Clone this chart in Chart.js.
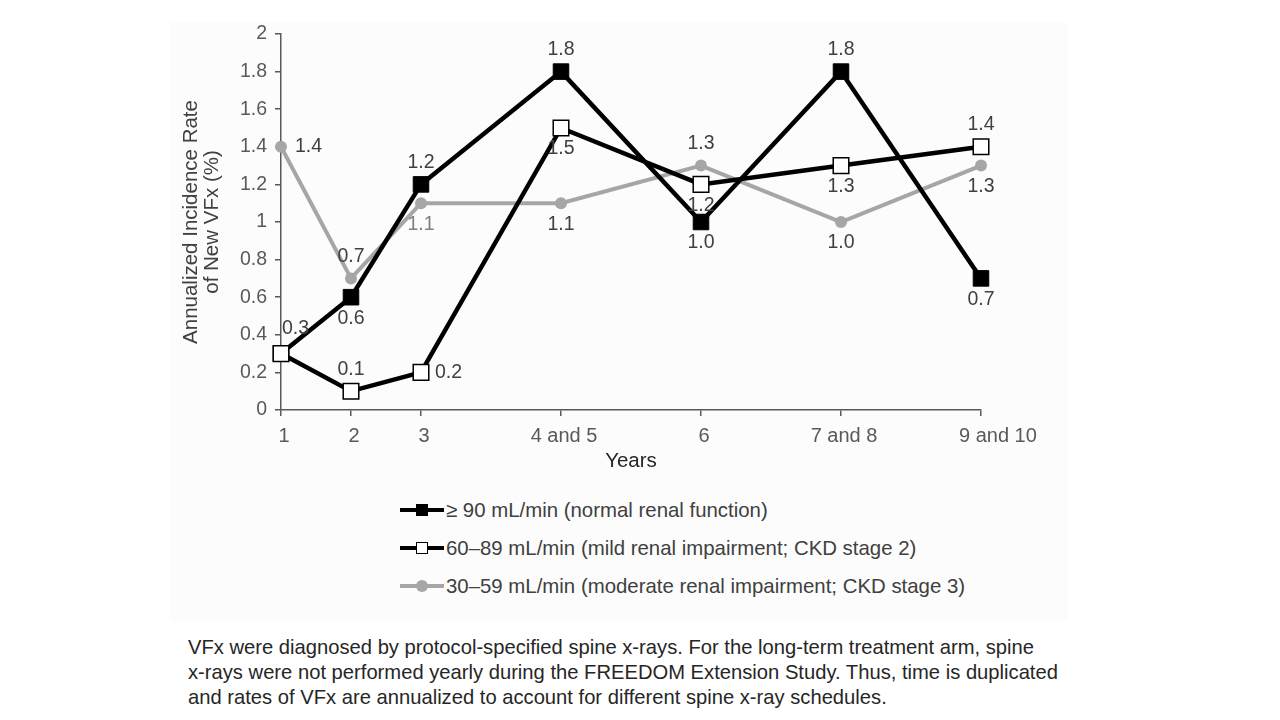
<!DOCTYPE html>
<html>
<head>
<meta charset="utf-8">
<script src="https://cdn.jsdelivr.net/npm/chart.js@4.4.1/dist/chart.umd.min.js"></script>
<style>
    body { margin: 0; background: #fff; font-family: "Liberation Sans", Arial, sans-serif; }
    #panel { position: absolute; left: 170px; top: 22px; width: 898px; height: 598px; background: #fcfcfc; }
    #wrap { position: absolute; left: 0; top: 0; width: 1280px; height: 480px; }
    #legend { position: absolute; left: 400px; top: 491px; color: #404040; font-size: 20.4px; }
    .item { height: 38px; display: flex; align-items: center; }
    .sample { position: relative; width: 44px; height: 38px; margin-right: 2px; }
    .sample .ln { position: absolute; left: 0; right: 0; top: 17px; height: 4px; }
    .sample .mk { position: absolute; box-sizing: border-box; }
    #note { position: absolute; left: 188px; top: 635px; font-size: 20.2px; line-height: 25px; color: #262626; }
</style>
</head>
<body>
<div id="panel"></div>
<div id="wrap"><canvas id="chart1" width="1280" height="480"></canvas></div>
<div id="legend"></div>
<div id="note">VFx were diagnosed by protocol-specified spine x-rays. For the long-term treatment arm, spine<br>x-rays were not performed yearly during the FREEDOM Extension Study. Thus, time is duplicated<br>and rates of VFx are annualized to account for different spine x-ray schedules.</div>
<script>
(function() {
    // x categories and where they sit on the year axis
    const yearLabels = ["1", "2", "3", "4 and 5", "6", "7 and 8", "9 and 10"]
    const yearPos = [1, 2, 3, 5, 7, 9, 11]

    const seriesNames = [
        "\u2265 90 mL/min (normal renal function)",
        "60\u201389 mL/min (mild renal impairment; CKD stage 2)",
        "30\u201359 mL/min (moderate renal impairment; CKD stage 3)",
    ]
    const normalRates = [0.3, 0.6, 1.2, 1.8, 1.0, 1.8, 0.7]
    const mildRates = [0.3, 0.1, 0.2, 1.5, 1.2, 1.3, 1.4]
    const moderateRates = [1.4, 0.7, 1.1, 1.1, 1.3, 1.0, 1.3]

    const yTicks = [0, 0.2, 0.4, 0.6, 0.8, 1, 1.2, 1.4, 1.6, 1.8, 2]

    const toPoints = (vals) => vals.map((v, i) => ({ x: yearPos[i], y: v }))

    const tickColor = "#595959"
    const font = "Liberation Sans, Arial, sans-serif"

    const valueLabels = {
        id: "valueLabels",
        afterDatasetsDraw(chart) {
            const ctx = chart.ctx
            ctx.save()
            ctx.font = "19.5px " + font
            ctx.textBaseline = "middle"
            chart.data.datasets.forEach((ds, i) => {
                const meta = chart.getDatasetMeta(i)
                meta.data.forEach((pt, j) => {
                    const where = ds.labelAt[j]
                    if (!where) return
                    let x = pt.x, y = pt.y, align = "center"
                    if (where === "above") y -= 22
                    else if (where === "below") y += 21
                    else if (where === "right") { x += 14; align = "left" }
                    else if (where === "aboveRight") { x += 1; y -= 25; align = "left" }
                    ctx.textAlign = align
                    ctx.fillStyle = (ds.labelColor && ds.labelColor[j]) || "#404040"
                    ctx.fillText(ds.data[j].y.toFixed(1), x, y)
                })
            })
            ctx.restore()
        }
    }

    const datasets = [
        {
            label: seriesNames[0],
            data: toPoints(normalRates),
            borderColor: "#000",
            borderWidth: 4.5,
            pointStyle: "rect",
            pointRadius: 11,
            pointBackgroundColor: "#000",
            pointBorderColor: "#000",
            pointBorderWidth: 1,
            clip: false,
            order: 1,
            labelAt: [null, "below", "above", "above", "below", "above", "below"],
        },
        {
            label: seriesNames[1],
            data: toPoints(mildRates),
            borderColor: "#000",
            borderWidth: 4.5,
            pointStyle: "rect",
            pointRadius: 11,
            pointBackgroundColor: "#fff",
            pointBorderColor: "#000",
            pointBorderWidth: 1.5,
            clip: false,
            order: 0,
            labelAt: ["aboveRight", "above", "right", "below", "below", "below", "above"],
        },
        {
            label: seriesNames[2],
            data: toPoints(moderateRates),
            borderColor: "#a6a6a6",
            borderWidth: 4,
            pointStyle: "circle",
            pointRadius: 6,
            pointBackgroundColor: "#a6a6a6",
            pointBorderColor: "#a6a6a6",
            pointBorderWidth: 0,
            clip: false,
            order: 2,
            labelAt: ["right", "above", "below", "below", "above", "below", "below"],
            labelColor: [null, null, "#808080"],
        },
    ]

    const chart = {
        type: "line",
        data: { datasets: datasets },
        options: {
            responsive: false,
            animation: false,
            layout: { padding: { left: 170, right: 299, top: 34, bottom: 0 } },
            scales: {
                x: {
                    type: "linear",
                    min: 1,
                    max: 11,
                    afterBuildTicks: (s) => { s.ticks = yearPos.map(v => ({ value: v })) },
                    afterFit: (s) => { s.height = 70 },
                    ticks: {
                        color: tickColor,
                        padding: 8,
                        labelOffset: 3,
                        font: { family: font, size: 20 },
                        callback: (v) => {
                            const i = yearPos.indexOf(v)
                            // the last label sits a bit right of its tick in the original
                            return (i === yearLabels.length - 1 ? "     " : "") + yearLabels[i]
                        },
                    },
                    grid: { drawOnChartArea: false, tickLength: 6, color: tickColor, lineWidth: 1.5 },
                    border: { color: tickColor, width: 1.5 },
                    title: {
                        display: true,
                        text: "Years",
                        color: "#262626",
                        font: { family: font, size: 20.5 },
                        padding: { top: 0, bottom: 6 },
                    },
                },
                y: {
                    min: 0,
                    max: 2,
                    afterBuildTicks: (s) => { s.ticks = yTicks.map(v => ({ value: v })) },
                    afterFit: (s) => { s.width = 111 },
                    ticks: {
                        color: tickColor,
                        padding: 8,
                        font: { family: font, size: 19.5 },
                        callback: (v) => String(v),
                    },
                    grid: { drawOnChartArea: false, tickLength: 6, color: tickColor, lineWidth: 1.5 },
                    border: { color: tickColor, width: 1.5 },
                    title: {
                        display: true,
                        text: ["Annualized Incidence Rate", "of New VFx (%)"],
                        color: "#404040",
                        font: { family: font, size: 20.5, lineHeight: 1.03 },
                        padding: { top: 11, bottom: 0 },
                    },
                },
            },
            plugins: {
                legend: { display: false },
                tooltip: { enabled: false },
            },
        },
        plugins: [valueLabels],
    }

    const ctx = document.getElementById("chart1").getContext("2d")
    new Chart(ctx, chart)

    // legend rows drawn from the same dataset styles
    const legend = document.getElementById("legend")
    datasets.forEach((ds) => {
        const row = document.createElement("div")
        row.className = "item"
        const sample = document.createElement("div")
        sample.className = "sample"
        const ln = document.createElement("div")
        ln.className = "ln"
        ln.style.background = ds.borderColor
        const mk = document.createElement("div")
        mk.className = "mk"
        const size = 12
        mk.style.width = size + "px"
        mk.style.height = size + "px"
        mk.style.left = (22 - size / 2) + "px"
        mk.style.top = (19 - size / 2) + "px"
        mk.style.background = ds.pointBackgroundColor
        mk.style.border = ds.pointBorderWidth ? "1.5px solid " + ds.pointBorderColor : "none"
        if (ds.pointStyle === "circle") mk.style.borderRadius = "50%"
        sample.appendChild(ln)
        sample.appendChild(mk)
        const txt = document.createElement("span")
        txt.textContent = ds.label
        row.appendChild(sample)
        row.appendChild(txt)
        legend.appendChild(row)
    })
})()
</script>
</body>
</html>
